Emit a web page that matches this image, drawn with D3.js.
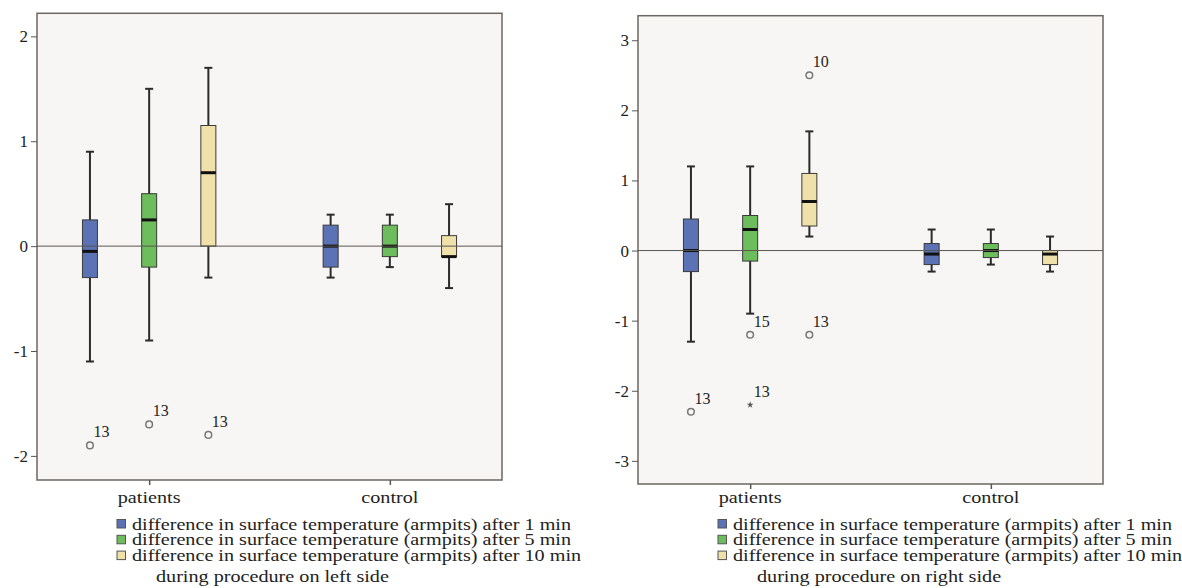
<!DOCTYPE html>
<html lang="en">
<head>
  <meta charset="UTF-8">
  <title>boxplots</title>
  <script src="https://d3js.org/d3.v7.min.js"></script>
  <style>
    body { margin: 0; background: #fff; }
    svg text { font-family: "Liberation Serif", "Times New Roman", Times, serif; fill: #222; }
  </style>
</head>
<body>
  <div class="chart"></div>
  <script>
    const groups = ['patients', 'control'];
    const seriesNames = [
      'difference in surface temperature (armpits) after 1 min',
      'difference in surface temperature (armpits) after 5 min',
      'difference in surface temperature (armpits) after 10 min'
    ];
    const seriesColors = ['#5b72b4', '#6dbd5c', '#efe1a9'];

    // [group, series, low whisker, q1, median, q3, high whisker]
    const leftBoxes = [
      ['patients', 0, -1.1, -0.3, -0.05, 0.25, 0.9],
      ['patients', 1, -0.9, -0.2, 0.25, 0.5, 1.5],
      ['patients', 2, -0.3, 0, 0.7, 1.15, 1.7],
      ['control', 0, -0.3, -0.2, 0, 0.2, 0.3],
      ['control', 1, -0.2, -0.1, 0, 0.2, 0.3],
      ['control', 2, -0.4, -0.1, -0.1, 0.1, 0.4]
    ];
    const rightBoxes = [
      ['patients', 0, -1.3, -0.3, 0, 0.45, 1.2],
      ['patients', 1, -0.9, -0.15, 0.3, 0.5, 1.2],
      ['patients', 2, 0.2, 0.35, 0.7, 1.1, 1.7],
      ['control', 0, -0.3, -0.2, -0.05, 0.1, 0.3],
      ['control', 1, -0.2, -0.1, 0, 0.1, 0.3],
      ['control', 2, -0.3, -0.2, -0.05, 0, 0.2]
    ];

    // [group, series, value, case label, kind]
    const leftOutliers = [
      ['patients', 0, -1.9, '13', 'circle'],
      ['patients', 1, -1.7, '13', 'circle'],
      ['patients', 2, -1.8, '13', 'circle']
    ];
    const rightOutliers = [
      ['patients', 0, -2.3, '13', 'circle'],
      ['patients', 1, -1.2, '15', 'circle'],
      ['patients', 1, -2.2, '13', 'star'],
      ['patients', 2, 2.5, '10', 'circle'],
      ['patients', 2, -1.2, '13', 'circle']
    ];

    const leftTicks = [-2, -1, 0, 1, 2];
    const rightTicks = [-3, -2, -1, 0, 1, 2, 3];
    const leftDomain = [-2.23, 2.22];
    const rightDomain = [-3.33, 3.35];
    const leftCaption = 'during procedure on left side';
    const rightCaption = 'during procedure on right side';

    const svg = d3.select('.chart').append('svg').attr('width', 1182).attr('height', 588)
      .attr('font-family', '"Liberation Serif", serif');

    // the source figure is stretched sideways, so words are widened too
    const stretch = 1.26;
    function widen(sel, anchorMid) {
      sel.each(function () {
        const t = d3.select(this);
        const w = this.getComputedTextLength() * stretch;
        t.attr('textLength', w).attr('lengthAdjust', 'spacingAndGlyphs');
        if (anchorMid) t.attr('x', +t.attr('x') - w / 2).attr('text-anchor', 'start');
      });
    }

    function drawPanel(x0, y0, y1, domain, ticks, boxes, outliers, caption) {
      const w = 465;
      const g = svg.append('g');

      const x = d3.scalePoint().domain(groups).range([x0, x0 + w]).padding(0.466);
      const off = d3.scalePoint().domain([0, 1, 2]).range([-x.step() * 0.246, x.step() * 0.246]);
      const y = d3.scaleLinear().domain(domain).range([y1, y0]);
      const bw = 15, cap = 8;

      g.append('rect')
        .attr('x', x0).attr('y', y0).attr('width', w).attr('height', y1 - y0)
        .attr('fill', '#f8f6f4').attr('stroke', '#6e6661').attr('stroke-width', 1.5);

      const yAxis = g.append('g')
        .attr('transform', `translate(${x0},0)`)
        .call(d3.axisLeft(y).tickValues(ticks).tickSize(6).tickPadding(3).tickFormat(d => String(d)));
      yAxis.select('.domain').remove();
      yAxis.selectAll('line').attr('stroke', '#555');
      yAxis.selectAll('text').attr('font-size', 17).attr('fill', '#222')
        .attr('font-family', '"Liberation Serif", serif');

      const xAxis = g.append('g')
        .attr('transform', `translate(0,${y1})`)
        .call(d3.axisBottom(x).tickSize(5).tickFormat(''));
      xAxis.select('.domain').remove();
      xAxis.selectAll('line').attr('stroke', '#555').attr('stroke-width', 1.5);

      g.selectAll('.cat').data(groups).enter().append('text')
        .attr('class', 'cat')
        .attr('x', d => x(d)).attr('y', 502.5)
        .attr('font-size', 16)
        .text(d => d)
        .call(widen, true);

      const bx = d => x(d[0]) + off(d[1]);
      const box = g.selectAll('.box').data(boxes).enter().append('g').attr('class', 'box');

      box.append('line')
        .attr('x1', bx).attr('x2', bx)
        .attr('y1', d => y(d[2])).attr('y2', d => y(d[6]))
        .attr('stroke', '#2b2b2b').attr('stroke-width', 2);
      [2, 6].forEach(k => {
        box.append('line')
          .attr('x1', d => bx(d) - cap / 2).attr('x2', d => bx(d) + cap / 2)
          .attr('y1', d => y(d[k])).attr('y2', d => y(d[k]))
          .attr('stroke', '#2b2b2b').attr('stroke-width', 2);
      });
      box.append('rect')
        .attr('x', d => bx(d) - bw / 2).attr('width', bw)
        .attr('y', d => y(d[5])).attr('height', d => y(d[3]) - y(d[5]))
        .attr('fill', d => seriesColors[d[1]])
        .attr('stroke', '#3a3a3a').attr('stroke-width', 1);

      g.append('line')
        .attr('x1', x0).attr('x2', x0 + w)
        .attr('y1', y(0)).attr('y2', y(0))
        .attr('stroke', '#5a5550').attr('stroke-width', 1);

      box.append('line')
        .attr('x1', d => bx(d) - bw / 2).attr('x2', d => bx(d) + bw / 2)
        .attr('y1', d => y(d[4])).attr('y2', d => y(d[4]))
        .attr('stroke', '#111').attr('stroke-width', 3);

      const out = g.selectAll('.out').data(outliers).enter().append('g').attr('class', 'out')
        .attr('transform', d => `translate(${bx(d)},${y(d[2])})`);
      out.filter(d => d[4] === 'circle').append('circle')
        .attr('r', 3.3).attr('fill', 'none').attr('stroke', '#777').attr('stroke-width', 1.5);
      out.filter(d => d[4] === 'star').append('path')
        .attr('d', d3.symbol(d3.symbolStar, 14)).attr('fill', '#555');
      out.append('text')
        .attr('x', 3.5).attr('y', -8)
        .attr('font-size', 16)
        .text(d => d[3]);

      const leg = g.selectAll('.leg').data(seriesNames).enter().append('g').attr('class', 'leg')
        .attr('transform', (d, i) => `translate(${x0 + 80},${529.5 + i * 15.8})`);
      leg.append('rect')
        .attr('x', 0).attr('y', -10).attr('width', 8.5).attr('height', 8.5)
        .attr('fill', (d, i) => seriesColors[i]).attr('stroke', '#555').attr('stroke-width', 1);
      leg.append('text')
        .attr('x', 15).attr('y', 0)
        .attr('font-size', 16)
        .text(d => d)
        .call(widen, false);

      g.append('text')
        .attr('x', x0 + 119).attr('y', 582)
        .attr('font-size', 16)
        .text(caption)
        .call(widen, false);
    }

    drawPanel(37, 13.3, 480, leftDomain, leftTicks, leftBoxes, leftOutliers, leftCaption);
    drawPanel(638, 15.7, 484, rightDomain, rightTicks, rightBoxes, rightOutliers, rightCaption);
  </script>
</body>
</html>
